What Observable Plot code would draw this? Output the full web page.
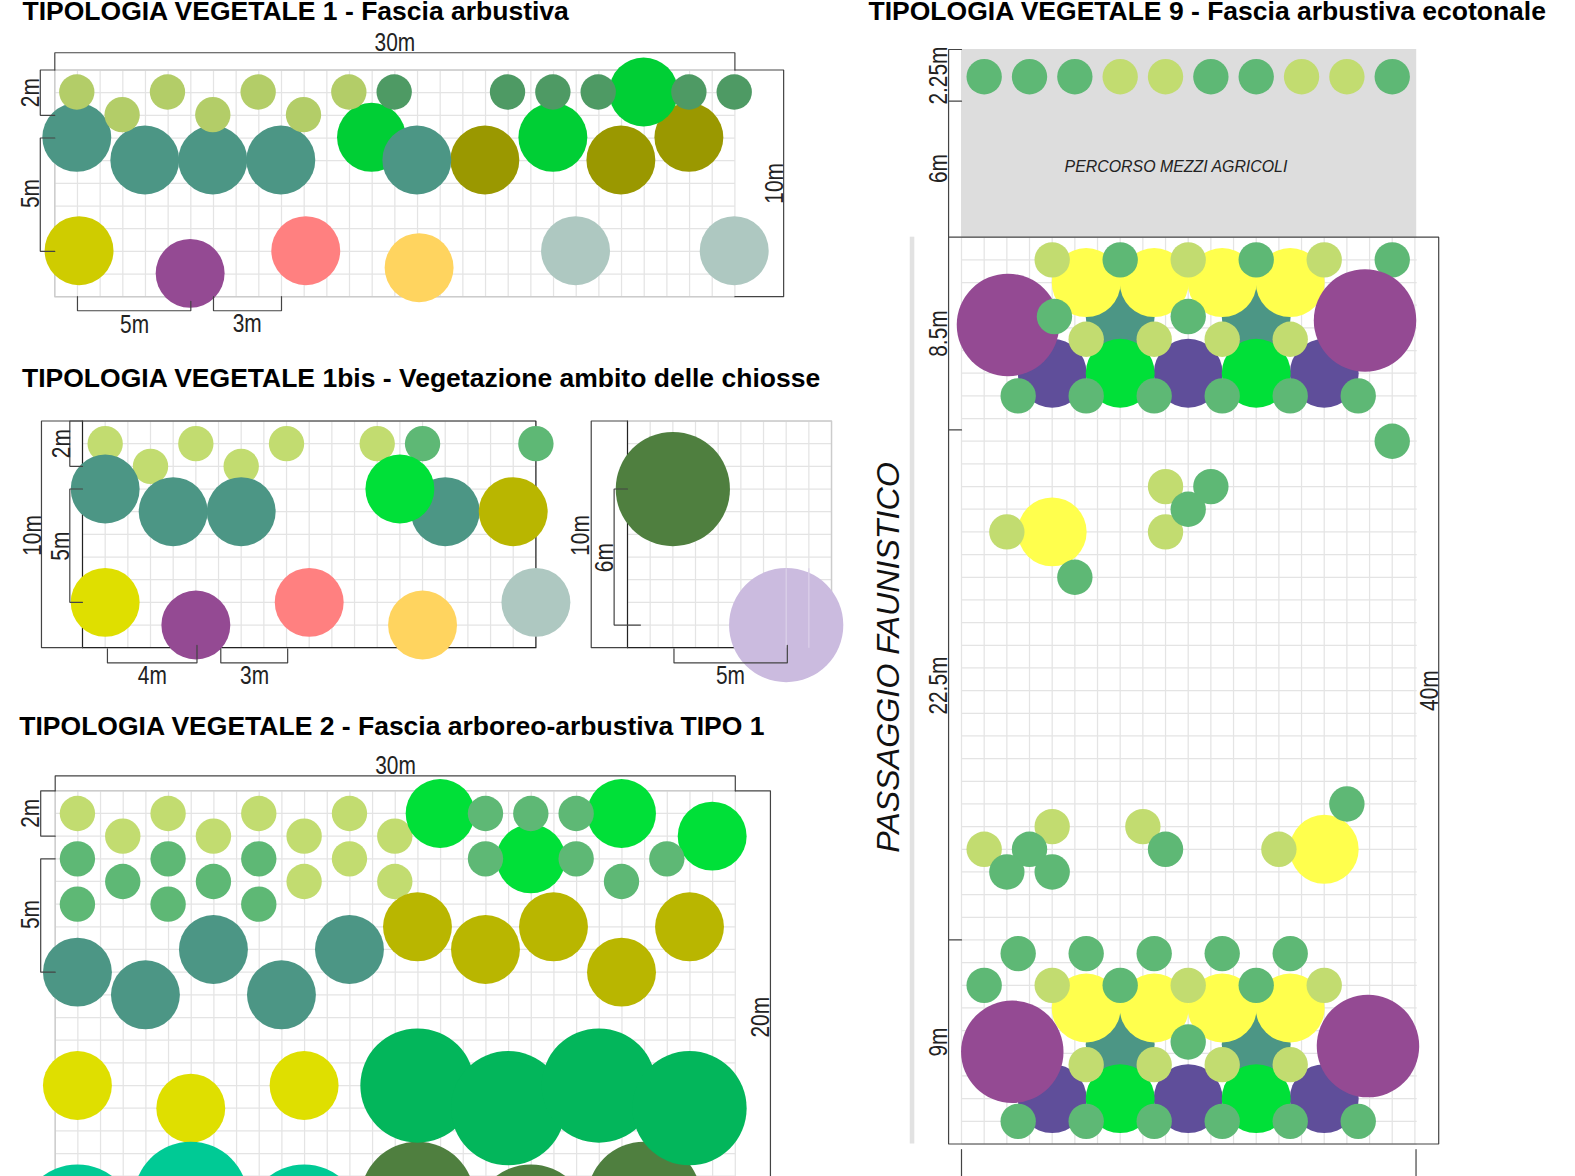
<!DOCTYPE html>
<html lang="it">
<head>
<meta charset="utf-8">
<title>Tipologie vegetali</title>
<style>html,body{margin:0;padding:0;background:#fff}svg{display:block}</style>
<script src="https://cdn.jsdelivr.net/npm/d3@7"></script>
<script src="https://cdn.jsdelivr.net/npm/@observablehq/plot@0.6"></script>
</head>
<body>
<div id="chart"></div>
<script>
// ---- all values in metres, relative to the top-left corner of their panel ----
const pxPerMetre = 22.67;

// species and colours
const speciesNames = ["limeA","darkSmall","tealShrub","brightA","oliveA","yellowA","purple","salmon","orange","pale",
  "lime","mid","bright","olive","yellow","darkTree","lavender","bigGreen","turquoise","violet","sun"];
const speciesColours = ["#b3cd68","#4e9a64","#4c9685","#00cf35","#9a9800","#cfcc00","#944a93","#ff8080","#ffd45f","#aec8c1",
  "#c2dc70","#5eb875","#00e038","#b9b600","#dfdf00","#4f7f3f","#cbbbdf","#03b65b","#00ca95","#5f4e9a","#ffff4d"];

// crown radii (m)
const rSmall = 0.78, rMedium = 1.52, rLarge = 2.52, rPurpleBig = 2.26;

// Tipologia 1
const p1Olive = [[19,4],[25,4],[28,3]];
const p1Bright = [[14,3],[22,3],[26,1]];
const p1Teal = [[1,3],[4,4],[7,4],[10,4],[16,4]];
const p1Lime = [[1,1],[3,2],[5,1],[7,2],[9,1],[11,2],[13,1]];
const p1Dark = [[15,1],[20,1],[22,1],[24,1],[28,1],[30,1]];
const p1Yellow = [[1.1,8]];
const p1Purple = [[6,9]];
const p1Salmon = [[11.1,8]];
const p1Orange = [[16.1,8.75]];
const p1Pale = [[23,8],[30,8]];

// Tipologia 1bis
const aLime = [[1,1],[3,2],[5,1],[7,2],[9,1],[13,1]];
const aMid = [[15,1],[20,1]];
const aTeal = [[1,3],[4,4],[7,4],[16,4]];
const aBright = [[14,3]];
const aOlive = [[19,4]];
const aYellow = [[1,8]];
const aPurple = [[5,9]];
const aSalmon = [[10,8]];
const aOrange = [[15,9]];
const aPale = [[20,8]];
const bDark = [[2,3]];
const bLavender = [[7,9]];

// Tipologia 2
const p2Lime = [[1,1],[3,2],[5,1],[7,2],[9,1],[11,2],[13,1],[15,2],[13,3],[11,4],[15,4]];
const p2Bright = [[17,1],[25,1],[21,3],[29,2]];
const p2Mid = [[1,3],[3,4],[5,3],[7,4],[9,3],[1,5],[5,5],[9,5],[19,1],[21,1],[23,1],[19,3],[23,3],[25,4],[27,3]];
const p2Teal = [[1,8],[4,9],[7,7],[10,9],[13,7]];
const p2Olive = [[16,6],[19,7],[22,6],[25,8],[28,6]];
const p2Yellow = [[1,13],[6,14],[11,13]];
const p2Turquoise = [[1,19],[6,18],[11,19]];
const p2DarkTree = [[16,18],[21,19],[26,18]];
const p2BigGreen = [[16,13],[20,14],[24,13],[28,14]];

// Tipologia 9: strip above the farm track
const stripMid = [[1,1.2],[3,1.2],[5,1.2],[11,1.2],[13,1.2],[19,1.2]];
const stripLime = [[7,1.2],[9,1.2],[15,1.2],[17,1.2]];

// Tipologia 9: main plan
const p9MidBehind = [[19,1]];
const p9Teal = [[7,3.5],[13,3.5],[7,35.6],[13,35.6]];
const p9Violet = [[4,6],[10,6],[16,6],[4,38],[10,38],[16,38]];
const p9Bright = [[7,6],[13,6],[7,38],[13,38]];
const p9Sun = [[5.5,2],[8.5,2],[11.5,2],[14.5,2],[5.5,34],[8.5,34],[11.5,34],[14.5,34],[4,13],[16,27]];
const p9Purple = [[2.05,3.87],[17.8,3.67],[2.24,35.93],[17.93,35.68]];
const p9Lime = [[4,1],[10,1],[16,1],[5.5,4.5],[8.5,4.5],[11.5,4.5],[14.5,4.5],
  [9,11],[9,13],[2,13],[1,27],[4,26],[8,26],[14,27],
  [4,33],[10,33],[16,33],[5.5,36.5],[8.5,36.5],[11.5,36.5],[14.5,36.5]];
const p9Mid = [[7,1],[13,1],[4.1,3.5],[10,3.5],[2.5,7],[5.5,7],[8.5,7],[11.5,7],[14.5,7],[17.5,7],
  [19,9],[11,11],[10,12],[5,15],[17,25],[3,27],[9,27],[2,28],[4,28],
  [2.5,31.6],[5.5,31.6],[8.5,31.6],[11.5,31.6],[14.5,31.6],
  [1,33],[7,33],[13,33],[10,35.5],
  [2.5,39],[5.5,39],[8.5,39],[11.5,39],[14.5,39],[17.5,39]];

// panel origins on the sheet, in pixels
const origins = {
  sheet:[0,0], p1:[54.3,69.5], a:[82,420.5], b:[627,420.5], p2:[54.7,790.3], strip:[961,49], p9:[961,236.7]
};
const X = (panel, v) => v + origins[panel][0] / pxPerMetre;
const Y = (panel, v) => v + origins[panel][1] / pxPerMetre;
// small registration nudge of the plants against their grid, per panel (m)
const plantNudge = {p1:[-.03,-.03], a:[0,0], b:[0,0], p2:[-.02,0], strip:[0,0], p9:[0,0]};

// draw order = list order
const plantGroups = [
  ["p1","oliveA",rMedium,p1Olive],["p1","brightA",rMedium,p1Bright],["p1","tealShrub",rMedium,p1Teal],
  ["p1","limeA",rSmall,p1Lime],["p1","darkSmall",rSmall,p1Dark],["p1","yellowA",rMedium,p1Yellow],
  ["p1","purple",rMedium,p1Purple],["p1","salmon",rMedium,p1Salmon],["p1","orange",rMedium,p1Orange],["p1","pale",rMedium,p1Pale],
  ["a","lime",rSmall,aLime],["a","mid",rSmall,aMid],["a","tealShrub",rMedium,aTeal],["a","bright",rMedium,aBright],
  ["a","olive",rMedium,aOlive],["a","yellow",rMedium,aYellow],["a","purple",rMedium,aPurple],["a","salmon",rMedium,aSalmon],
  ["a","orange",rMedium,aOrange],["a","pale",rMedium,aPale],
  ["b","darkTree",rLarge,bDark],["b","lavender",rLarge,bLavender],
  ["p2","lime",rSmall,p2Lime],["p2","bright",rMedium,p2Bright],["p2","mid",rSmall,p2Mid],["p2","tealShrub",rMedium,p2Teal],
  ["p2","olive",rMedium,p2Olive],["p2","yellow",rMedium,p2Yellow],["p2","turquoise",rLarge,p2Turquoise],
  ["p2","darkTree",rLarge,p2DarkTree],["p2","bigGreen",rLarge,p2BigGreen],
  ["strip","mid",rSmall,stripMid],["strip","lime",rSmall,stripLime],
  ["p9","mid",rSmall,p9MidBehind],["p9","tealShrub",rMedium,p9Teal],["p9","violet",rMedium,p9Violet],["p9","bright",rMedium,p9Bright],
  ["p9","sun",rMedium,p9Sun],["p9","purple",rPurpleBig,p9Purple],["p9","lime",rSmall,p9Lime],["p9","mid",rSmall,p9Mid]
];
const plants = plantGroups.flatMap(([panel, species, r, pts]) =>
  pts.map(([x, y]) => ({x: X(panel, x + plantNudge[panel][0]), y: Y(panel, y + plantNudge[panel][1]), r, species})));

// grid extents: panel, metres wide, metres high, horizontal overrun
const gridPanels = [["p1",30,10,0],["a",20,10,0],["b",9,10,0],["p2",30,20,0],["p9",20,40,.08]];
const gridLines = gridPanels.flatMap(([p, w, h, over]) => [
  ...d3.range(0, w + 1).map(i => ({x1:X(p,i), x2:X(p,i), y1:Y(p,0), y2:Y(p,h)})),
  ...d3.range(0, h + 1).map(j => ({x1:X(p,0), x2:X(p,w + over), y1:Y(p,j), y2:Y(p,j)}))
]);
// grid lines that show through the lavender crown
const showThrough = [[7,6.5,10],[8,6.5,10]].map(([x, a, b]) => ({x1:X("b",x), x2:X("b",x), y1:Y("b",a), y2:Y("b",b)}));

// pale outlines of the grids
const paleFrames = [
  ["p1",[[30,0],[0,0],[0,10],[30,10]]],
  ["p2",[[30,0],[0,0],[0,20]]],
  ["b",[[0,0],[9,0],[9,10]]]
].flatMap(([p, pts], id) => pts.map(([x, y]) => ({id, x:X(p,x), y:Y(p,y)})));

// dimension lines: panel, polyline in metres
const dimLines = [
  ["p1",[[0,0],[0,-.76],[30,-.76],[30,0]]],
  ["p1",[[30,0],[32.15,0],[32.15,10],[30,10]]],
  ["p1",[[0,0],[-.64,0],[-.64,2],[0,2]]],
  ["p1",[[0,3],[-.64,3],[-.64,8],[0,8]]],
  ["p1",[[1,10],[1,10.62],[6,10.62],[6,10.2]]],
  ["p1",[[7,10],[7,10.62],[10,10.62],[10,10]]],
  ["a",[[0,0],[-1.81,0],[-1.81,10],[0,10]]],
  ["a",[[0,0],[-.56,0],[-.56,2],[0,2]]],
  ["a",[[0,3],[-.56,3],[-.56,8],[0,8]]],
  ["a",[[1.1,10.05],[1.1,10.67],[5.05,10.67],[5.05,9.9]]],
  ["a",[[6.1,10.05],[6.1,10.67],[9.05,10.67],[9.05,10.05]]],
  ["b",[[0,0],[-1.6,0],[-1.6,10],[0,10]]],
  ["b",[[0,3],[-.59,3],[-.59,9],[.57,9]]],
  ["b",[[2.05,10.05],[2.05,10.67],[7.05,10.67],[7.05,9.9]]],
  ["p2",[[0,0],[0,-.66],[30,-.66],[30,0]]],
  ["p2",[[30,0],[31.55,0],[31.55,20]]],
  ["p2",[[0,0],[-.64,0],[-.64,2],[0,2]]],
  ["p2",[[0,3],[-.64,3],[-.64,8],[0,8]]],
  ["p9",[[0,-8.28],[-.57,-8.28],[-.57,40],[21.05,40],[21.05,0],[-.57,0]]],
  ["p9",[[-.57,-6],[0,-6]]],
  ["p9",[[-.57,8.5],[0,8.5]]],
  ["p9",[[-.57,31],[0,31]]],
  ["p9",[[0,40.25],[0,41.6]]],
  ["p9",[[20.05,40.25],[20.05,41.6]]]
];
const dimPoints = dimLines.flatMap(([p, pts], id) => pts.map(([x, y]) => ({id, x:X(p,x), y:Y(p,y)})));

// frames of the 1bis panels
const darkFrame = [["a",[[0,0],[20,0],[20,10],[0,10],[0,0]]],["b",[[0,0],[0,10],[9,10]]]]
  .flatMap(([p, pts], id) => pts.map(([x, y]) => ({id, x:X(p,x), y:Y(p,y)})));

// labels: panel, text, x, y in metres
const hLabels = [
  ["p1","30m",15,-.86],["p1","5m",3.52,11.6],["p1","3m",8.49,11.57],
  ["a","4m",3.08,11.58],["a","3m",7.59,11.58],["b","5m",4.54,11.58],
  ["p2","30m",15.01,-.76]
];
const vLabels = [
  ["p1","10m",32.13,5],["p1","2m",-.7,1],["p1","5m",-.7,5.45],
  ["a","10m",-1.83,5.05],["a","2m",-.56,1],["a","5m",-.58,5.52],
  ["b","10m",-1.72,5.05],["b","6m",-.64,6.03],
  ["p2","20m",31.5,9.99],["p2","2m",-.7,.99],["p2","5m",-.7,5.46],
  ["p9","2.25m",-.62,-7.13],["p9","6m",-.62,-3.03],["p9","8.5m",-.62,4.25],
  ["p9","22.5m",-.62,19.78],["p9","9m",-.62,35.5],["p9","40m",21,20]
];
const titles = [
  ["sheet","TIPOLOGIA VEGETALE 1 - Fascia arbustiva",.97,.84],
  ["sheet","TIPOLOGIA VEGETALE 1bis - Vegetazione ambito delle chiosse",.95,17.07],
  ["sheet","TIPOLOGIA VEGETALE 2 - Fascia arboreo-arbustiva TIPO 1",.83,32.42],
  ["sheet","TIPOLOGIA VEGETALE 9 - Fascia arbustiva ecotonale",38.29,.84]
];
const trackLabel = [["p9","PERCORSO MEZZI AGRICOLI",9.46,-2.86]];
const passageLabel = [["p9","PASSAGGIO FAUNISTICO",-2.77,18.54]];
const toText = rows => rows.map(([p, text, x, y]) => ({text, x:X(p,x), y:Y(p,y)}));

const sheetW = 1575, sheetH = 1176;
const sans = "'Liberation Sans',Arial,sans-serif";
const labelSize = 26.4, labelCondense = 0.79;

const chart = Plot.plot({
  width: sheetW, height: sheetH,
  margin: 0,
  x: {domain:[0, sheetW/pxPerMetre], range:[0, sheetW], axis:null},
  y: {domain:[0, sheetH/pxPerMetre], range:[0, sheetH], axis:null},
  r: {type:"linear", domain:[0,1], range:[0,pxPerMetre]},
  color: {type:"ordinal", domain:speciesNames, range:speciesColours},
  marks: [
    Plot.rect([{x1:X("p9",0), x2:X("p9",20.08), y1:Y("strip",0), y2:Y("p9",0)}],
      {x1:"x1", x2:"x2", y1:"y1", y2:"y2", fill:"#dddddd"}),
    Plot.link(gridLines, {x1:"x1", x2:"x2", y1:"y1", y2:"y2", stroke:"#e4e4e4", strokeWidth:1.25}),
    Plot.line(paleFrames, {x:"x", y:"y", z:"id", stroke:"#cccccc", strokeWidth:1.4}),
    Plot.rect([{x1:X("p9",-2.26), x2:X("p9",-2.06), y1:Y("p9",0), y2:Y("p9",40)}],
      {x1:"x1", x2:"x2", y1:"y1", y2:"y2", fill:"#e2e2e2"}),
    Plot.line(darkFrame, {x:"x", y:"y", z:"id", stroke:"#222", strokeWidth:1.2}),
    Plot.dot(plants, {x:"x", y:"y", r:"r", fill:"species", sort:null}),
    Plot.link(showThrough, {x1:"x1", x2:"x2", y1:"y1", y2:"y2", stroke:"#dcd2ea", strokeWidth:1.2}),
    Plot.line(dimPoints, {x:"x", y:"y", z:"id", stroke:"#444", strokeWidth:1.2, strokeLinejoin:"miter"}),
    Plot.text(toText(hLabels), {x:"x", y:"y", text:"text", lineAnchor:"bottom", fontSize:labelSize, fontFamily:sans, fill:"#222"}),
    Plot.text(toText(vLabels), {x:"x", y:"y", text:"text", rotate:-90, lineAnchor:"bottom", fontSize:labelSize, fontFamily:sans, fill:"#222"}),
    Plot.text(toText(titles), {x:"x", y:"y", text:"text", textAnchor:"start", lineAnchor:"bottom", fontSize:26.5, fontWeight:"bold", fontFamily:sans, fill:"#000"}),
    Plot.text(toText(trackLabel), {x:"x", y:"y", text:"text", lineAnchor:"bottom", fontSize:15.9, fontStyle:"italic", fontFamily:sans, fill:"#222"}),
    Plot.text(toText(passageLabel), {x:"x", y:"y", text:"text", rotate:-90, lineAnchor:"bottom", fontSize:32.2, fontStyle:"italic", fontFamily:sans, fill:"#111"})
  ]
});
document.getElementById("chart").appendChild(chart);

// the dimension labels are set in a condensed cut: narrow them to match
chart.querySelectorAll(`g[font-size="${labelSize}"] text`).forEach(t => {
  t.setAttribute("textLength", (t.getComputedTextLength() * labelCondense).toFixed(1));
  t.setAttribute("lengthAdjust", "spacingAndGlyphs");
});
</script>
</body>
</html>
